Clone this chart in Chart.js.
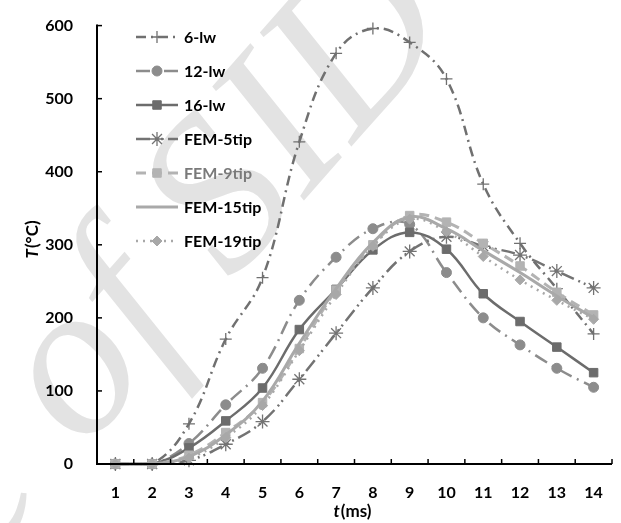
<!DOCTYPE html>
<html lang="en">
<head>
<meta charset="UTF-8">
<title>T vs t</title>
<script src="https://cdn.jsdelivr.net/npm/chart.js"></script>
<style>
  html, body { margin: 0; padding: 0; background: #fff; }
  #wrap { width: 621px; height: 523px; position: relative; }
</style>
</head>
<body>
<div id="wrap"><canvas id="chart"></canvas></div>
<script>
// x categories (ms)
const times = ['1', '2', '3', '4', '5', '6', '7', '8', '9', '10', '11', '12', '13', '14'];
const yTicks = [0, 100, 200, 300, 400, 500, 600];

// temperatures (°C)
const lw6 = [0, 0, 55, 171, 255, 441, 562, 596, 577, 527, 383, 302, 240, 178];
const lw12 = [0, 0, 28, 81, 131, 224, 283, 322, 328, 262, 200, 163, 131, 105];
const lw16 = [0, 0, 22, 59, 104, 184, 239, 293, 317, 294, 233, 195, 160, 125];
const fem5 = [0, 0, 5, 27, 58, 116, 179, 241, 291, 311, 298, 286, 264, 241];
const fem9 = [0, 0, 12, 43, 84, 158, 238, 300, 340, 331, 302, 271, 235, 204];
const fem15 = [0, 0, 10, 40, 86, 165, 240, 303, 338, 322, 292, 262, 230, 200];
const fem19 = [0, 0, 8, 36, 80, 155, 232, 298, 335, 318, 284, 252, 224, 198];

const seriesNames = ['6-lw', '12-lw', '16-lw', 'FEM-5tip', 'FEM-9tip', 'FEM-15tip', 'FEM-19tip'];

const FONT = 'Lato, "Open Sans", sans-serif';

function series(i, data, color, dash, width, style, radius) {
  return {
    label: seriesNames[i],
    data: data,
    borderColor: color,
    backgroundColor: color,
    borderDash: dash,
    borderWidth: width,
    pointStyle: style,
    pointRadius: radius,
    pointBorderWidth: style === 'cross' || style === 'star' ? 1.3 : 1,
    tension: 0.4,
    fill: false,
    clip: false,
    order: 10 - i
  };
}

const datasets = [
  series(0, lw6, '#707070', [10, 5, 2, 5], 2.5, 'cross', 6),
  series(1, lw12, '#8c8c8c', [14, 6, 2, 6], 2.5, 'circle', 5),
  series(2, lw16, '#6c6c6c', [], 2.5, 'rect', 6),
  series(3, fem5, '#737373', [14, 5, 2, 4, 2, 5], 2.5, 'star', 7),
  series(4, fem9, '#b3b3b3', [10, 6], 3, 'rect', 6),
  series(5, fem15, '#a9a9a9', [], 3, false, 0),
  series(6, fem19, '#a8a8a8', [2, 5], 2.5, 'rectRot', 5)
];

// faint watermark behind everything
const watermark = {
  id: 'watermark',
  beforeDraw(chart) {
    const ctx = chart.ctx;
    ctx.save();
    ctx.translate(-18, 567);
    ctx.rotate(-0.85);
    ctx.fillStyle = '#e3e3e3';
    ctx.font = 'italic 220px "Liberation Serif", serif';
    ctx.textBaseline = 'alphabetic';
    ctx.fillText('e of SID', 0, 0);
    ctx.restore();
  }
};

// inward tick marks, legend inside the plot, mixed-font axis titles
const decor = {
  id: 'decor',
  afterDatasetsDraw(chart) {
    const ctx = chart.ctx;
    const x = chart.scales.x, y = chart.scales.y;
    const a = chart.chartArea;
    ctx.save();
    ctx.strokeStyle = '#000';
    ctx.lineWidth = 2;
    ctx.beginPath();
    ctx.moveTo(a.left, a.top - 1);
    ctx.lineTo(a.left, a.bottom);
    ctx.lineTo(a.right, a.bottom);
    ctx.stroke();
    ctx.lineWidth = 1.5;
    yTicks.forEach(v => {
      const py = y.getPixelForValue(v);
      ctx.beginPath(); ctx.moveTo(a.left, py); ctx.lineTo(a.left + 5, py); ctx.stroke();
    });
    const step = x.getPixelForValue(1) - x.getPixelForValue(0);
    for (let i = 0; i <= times.length; i++) {
      const px = x.getPixelForValue(0) - step / 2 + i * step;
      ctx.beginPath(); ctx.moveTo(px, a.bottom); ctx.lineTo(px, a.bottom - 5); ctx.stroke();
    }

    // legend
    chart.data.datasets.forEach((ds, i) => {
      const ly = 37 + i * 34;
      const x0 = 136, x1 = 178, mx = 157;
      ctx.strokeStyle = ds.borderColor;
      ctx.lineWidth = ds.borderWidth;
      ctx.setLineDash(ds.borderDash);
      ctx.beginPath(); ctx.moveTo(x0, ly); ctx.lineTo(x1, ly); ctx.stroke();
      ctx.setLineDash([]);
      if (ds.pointStyle) {
        ctx.fillStyle = ds.backgroundColor;
        ctx.strokeStyle = ds.borderColor;
        ctx.lineWidth = ds.pointBorderWidth;
        Chart.helpers.drawPoint(ctx, {
          pointStyle: ds.pointStyle, radius: ds.pointRadius, rotation: 0,
          borderWidth: ds.pointBorderWidth
        }, mx, ly);
      }
      ctx.fillStyle = i === 4 ? '#7a7a7a' : '#000';
      ctx.font = 'bold 16px ' + FONT;
      ctx.textBaseline = 'middle';
      ctx.textAlign = 'left';
      ctx.fillText(ds.label, 184, ly + 1);
    });

    // axis titles
    ctx.fillStyle = '#000';
    ctx.textBaseline = 'middle';
    const tx = 'bold italic 17px ' + FONT, tn = 'bold 17px ' + FONT;
    ctx.font = tx; const w1 = ctx.measureText('t').width;
    ctx.font = tn; const w2 = ctx.measureText('(ms)').width;
    let sx = 352 - (w1 + w2) / 2;
    ctx.font = tx; ctx.textAlign = 'left'; ctx.fillText('t', sx, 512);
    ctx.font = tn; ctx.fillText('(ms)', sx + w1 + 1, 512);

    ctx.save();
    ctx.translate(33, 240);
    ctx.rotate(-Math.PI / 2);
    ctx.font = tx; const v1 = ctx.measureText('T').width;
    ctx.font = tn; const v2 = ctx.measureText('(°C)').width;
    sx = -(v1 + v2) / 2;
    ctx.font = tx; ctx.fillText('T', sx, 0);
    ctx.font = tn; ctx.fillText('(°C)', sx + v1 + 1, 0);
    ctx.restore();
    ctx.restore();
  }
};

new Chart(document.getElementById('chart'), {
  type: 'line',
  data: { labels: times, datasets: datasets },
  options: {
    responsive: true,
    maintainAspectRatio: false,
    animation: false,
    layout: { padding: { top: 19, right: 9, left: 0, bottom: 0 } },
    plugins: { legend: { display: false }, tooltip: { enabled: false } },
    scales: {
      x: {
        type: 'category',
        offset: true,
        grid: { display: false },
        border: { display: false },
        ticks: { color: '#000', font: { family: FONT, size: 16, weight: 'bold' }, padding: 11, maxRotation: 0 },
        afterFit: s => { s.height = 59; }
      },
      y: {
        min: 0, max: 600,
        grid: { display: false },
        border: { display: false },
        ticks: { stepSize: 100, color: '#000', font: { family: FONT, size: 16, weight: 'bold' }, padding: 16 },
        afterFit: s => { s.width = 97; }
      }
    }
  },
  plugins: [watermark, decor]
});
</script>
</body>
</html>
